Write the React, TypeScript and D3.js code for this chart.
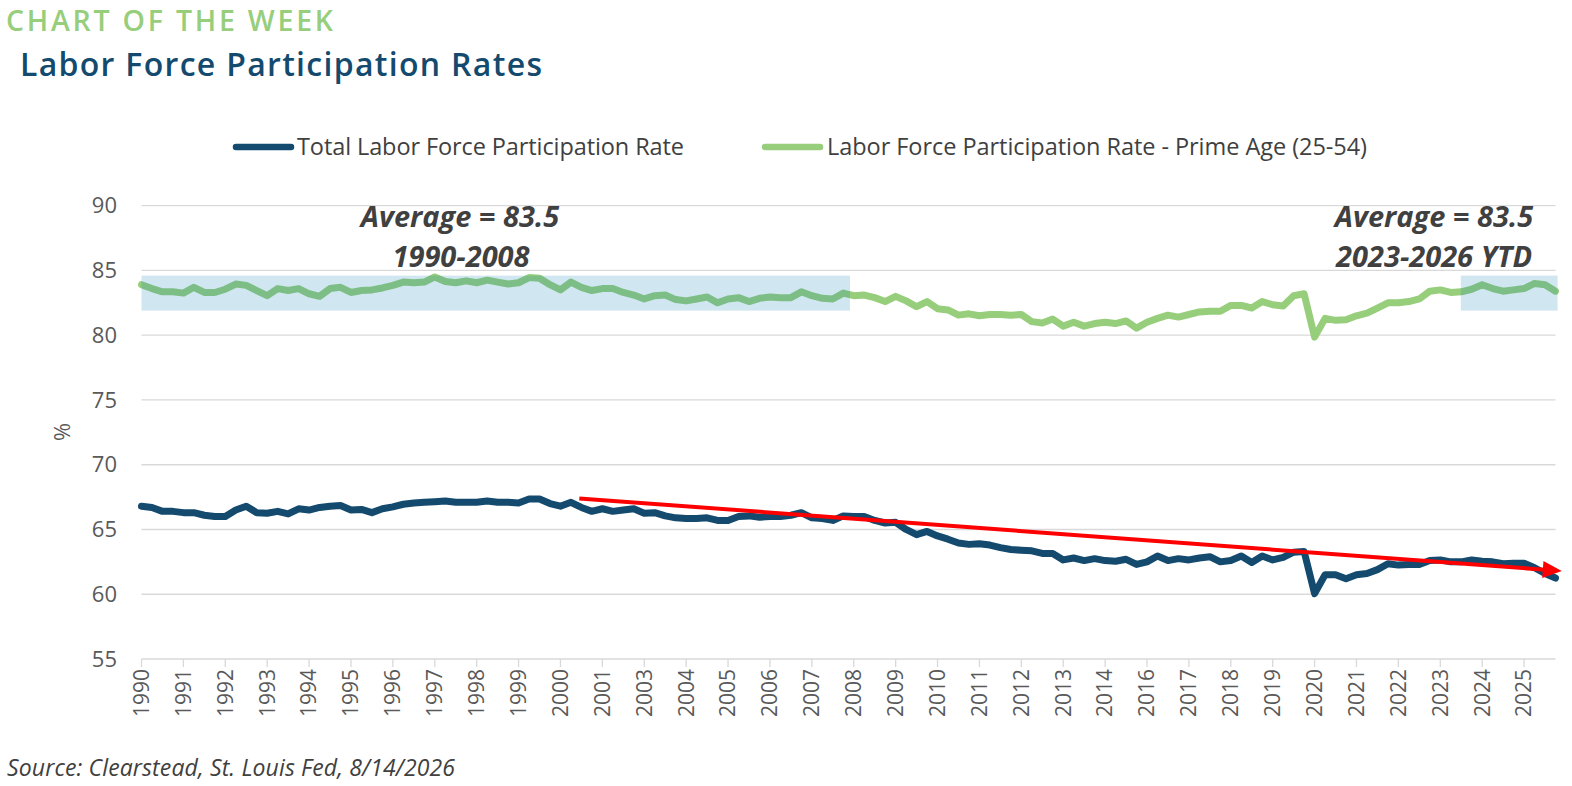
import React from 'react';
import * as d3 from 'd3';

// ---------- data ----------
const tickLabels = [
  '1990', '1991', '1992', '1993', '1994', '1995', '1996', '1997', '1998', '1999', '2000', '2001',
  '2003', '2004', '2005', '2006', '2007', '2008', '2009', '2010', '2011', '2012', '2013', '2014',
  '2016', '2017', '2018', '2019', '2020', '2021', '2022', '2023', '2024', '2025',
];
const yTicks = [55, 60, 65, 70, 75, 80, 85, 90];

// samples every quarter of an axis tick interval
const STEP = 0.25;
const totalRate = [
  66.8, 66.7, 66.4, 66.4, 66.3, 66.3, 66.1, 66.0, 66.0, 66.5,
  66.8, 66.3, 66.25, 66.4, 66.2, 66.6, 66.5, 66.7, 66.8, 66.85,
  66.5, 66.55, 66.3, 66.6, 66.75, 66.95, 67.05, 67.1, 67.15, 67.2,
  67.1, 67.1, 67.1, 67.2, 67.1, 67.1, 67.05, 67.35, 67.35, 67.0,
  66.8, 67.1, 66.7, 66.4, 66.6, 66.4, 66.5, 66.6, 66.25, 66.3,
  66.05, 65.9, 65.85, 65.85, 65.9, 65.7, 65.7, 66.0, 66.05, 65.95,
  66.0, 66.0, 66.1, 66.3, 65.9, 65.85, 65.7, 66.05, 66.0, 66.0,
  65.7, 65.5, 65.55, 65.0, 64.6, 64.85, 64.5, 64.25, 63.95, 63.85,
  63.9, 63.8, 63.6, 63.45, 63.4, 63.35, 63.15, 63.15, 62.65, 62.8,
  62.6, 62.75, 62.6, 62.55, 62.7, 62.3, 62.5, 62.95, 62.6, 62.75,
  62.65, 62.8, 62.9, 62.5, 62.6, 62.95, 62.45, 62.95, 62.65, 62.85,
  63.25, 63.3, 60.05, 61.5, 61.5, 61.2, 61.5, 61.6, 61.9, 62.35,
  62.25, 62.3, 62.3, 62.6, 62.65, 62.5, 62.5, 62.65, 62.55, 62.5,
  62.35, 62.4, 62.4, 62.05, 61.6, 61.25,
];
const primeAgeRate = [
  83.9, 83.6, 83.35, 83.35, 83.25, 83.7, 83.3, 83.3, 83.55, 83.95,
  83.85, 83.45, 83.05, 83.6, 83.45, 83.6, 83.2, 83.0, 83.6, 83.7,
  83.3, 83.45, 83.5, 83.65, 83.85, 84.1, 84.05, 84.1, 84.5, 84.15,
  84.05, 84.2, 84.05, 84.25, 84.1, 83.95, 84.05, 84.45, 84.4, 83.9,
  83.5, 84.1, 83.7, 83.45, 83.6, 83.6, 83.3, 83.1, 82.8, 83.05,
  83.1, 82.75, 82.65, 82.8, 82.95, 82.5, 82.8, 82.9, 82.6, 82.85,
  82.95, 82.9, 82.9, 83.35, 83.05, 82.85, 82.8, 83.25, 83.05, 83.1,
  82.9, 82.6, 83.0, 82.65, 82.2, 82.6, 82.05, 81.95, 81.55, 81.65,
  81.5, 81.6, 81.6, 81.55, 81.6, 81.05, 80.95, 81.25, 80.7, 81.0,
  80.7, 80.9, 81.0, 80.9, 81.1, 80.55, 81.0, 81.3, 81.55, 81.4,
  81.6, 81.8, 81.85, 81.85, 82.3, 82.3, 82.1, 82.6, 82.35, 82.25,
  83.05, 83.2, 79.85, 81.3, 81.15, 81.2, 81.5, 81.7, 82.1, 82.5,
  82.5, 82.6, 82.8, 83.4, 83.5, 83.3, 83.35, 83.55, 83.9, 83.6,
  83.4, 83.5, 83.6, 84.0, 83.9, 83.4,
];

// average bands (axis-tick units, %)
const bandStarts = [0, 31.49];
const bandEnds = [16.91, 33.8];
const bandLow = 81.9;
const bandHigh = 84.6;

// trend arrow (axis-tick units, %)
const trendTicks = [10.45, 33.9];
const trendValues = [67.4, 61.8];

const seriesNames = [
  'Total Labor Force Participation Rate',
  'Labor Force Participation Rate - Prime Age (25-54)',
];
const annotationLeft = ['Average = 83.5', '1990-2008'];
const annotationRight = ['Average = 83.5', '2023-2026 YTD'];

// ---------- styles ----------
const W = 1572;
const H = 786;
const BLUE = '#134A6E';
const GREEN = '#97CE7B';
const GRID = '#D9D9D9';
const AXIS_TEXT = '#595959';
const DARK_TEXT = '#404040';
const FONT = "'Open Sans', 'Noto Sans', sans-serif";

export default function App() {
  const x = d3.scaleLinear().domain([0, 33.75]).range([141.5, 1555.5]);
  const y = d3.scaleLinear().domain([55, 90]).range([659, 205.7]);

  const line = d3
    .line<number>()
    .x((_, i) => x(i * STEP))
    .y((d) => y(d));

  // trend arrow geometry
  const tx0 = x(trendTicks[0]);
  const ty0 = y(trendValues[0]);
  const tx1 = x(trendTicks[1]);
  const ty1 = y(trendValues[1]);
  const ang = Math.atan2(ty1 - ty0, tx1 - tx0);
  const headLen = 19;
  const headHalf = 8.5;
  const bx = tx1 - headLen * Math.cos(ang);
  const by = ty1 - headLen * Math.sin(ang);
  const px = -Math.sin(ang);
  const py = Math.cos(ang);
  const head = [
    [tx1, ty1],
    [bx + px * headHalf, by + py * headHalf],
    [bx - px * headHalf, by - py * headHalf],
  ]
    .map((p) => p.join(','))
    .join(' ');

  return (
    <svg
      width={W}
      height={H}
      viewBox={`0 0 ${W} ${H}`}
      style={{ position: 'absolute', left: 0, top: 0, background: '#fff' }}
      fontFamily={FONT}
    >
      {/* titles */}
      <text x={6} y={31} fontSize={28.5} fontWeight={600} fill={GREEN} textLength={327}>
        CHART OF THE WEEK
      </text>
      <text x={20} y={76} fontSize={32} fontWeight={600} fill={BLUE} textLength={522}>
        Labor Force Participation Rates
      </text>

      {/* legend */}
      <g>
        <line x1={236} x2={291} y1={147} y2={147} stroke={BLUE} strokeWidth={6.5} strokeLinecap="round" />
        <text x={297} y={147} dy="0.35em" fontSize={23.5} fill={DARK_TEXT} textLength={387}>
          {seriesNames[0]}
        </text>
        <line x1={765} x2={820} y1={147} y2={147} stroke={GREEN} strokeWidth={6.5} strokeLinecap="round" />
        <text x={827} y={147} dy="0.35em" fontSize={23.5} fill={DARK_TEXT} textLength={540}>
          {seriesNames[1]}
        </text>
      </g>

      {/* gridlines */}
      {yTicks.map((t) => (
        <g key={t}>
          <line x1={x(0)} x2={x(33.75)} y1={y(t)} y2={y(t)} stroke={GRID} strokeWidth={1.3} />
          <text x={117} y={y(t)} dy="0.35em" textAnchor="end" fontSize={22} fill={AXIS_TEXT}>
            {t}
          </text>
        </g>
      ))}

      {/* x ticks */}
      {tickLabels.map((lab, i) => (
        <g key={lab}>
          <line x1={x(i)} x2={x(i)} y1={y(55)} y2={y(55) + 8} stroke={GRID} strokeWidth={1.3} />
          <text
            transform={`translate(${x(i)},${y(55) + 10}) rotate(-90)`}
            dy="0.35em"
            textAnchor="end"
            fontSize={21}
            fill={AXIS_TEXT}
          >
            {lab}
          </text>
        </g>
      ))}

      {/* y axis title */}
      <text transform="translate(62,432) rotate(-90)" dy="0.35em" textAnchor="middle" fontSize={22} fill={AXIS_TEXT}>
        %
      </text>

      {/* series */}
      <path d={line(primeAgeRate) || ''} fill="none" stroke={GREEN} strokeWidth={7} strokeLinejoin="round" strokeLinecap="round" />
      <path d={line(totalRate) || ''} fill="none" stroke={BLUE} strokeWidth={7} strokeLinejoin="round" strokeLinecap="round" />

      {/* average bands */}
      {bandStarts.map((s, i) => (
        <rect
          key={i}
          x={x(s)}
          y={y(bandHigh)}
          width={x(bandEnds[i]) - x(s)}
          height={y(bandLow) - y(bandHigh)}
          fill="rgb(20,130,180)"
          fillOpacity={0.2}
        />
      ))}

      {/* trend arrow */}
      <line x1={tx0} y1={ty0} x2={bx + 2 * Math.cos(ang)} y2={by + 2 * Math.sin(ang)} stroke="#FF0000" strokeWidth={4} />
      <polygon points={head} fill="#FF0000" />

      {/* annotations */}
      <g fontSize={29} fontWeight={700} fontStyle="italic" fill={DARK_TEXT} textAnchor="middle">
        <text x={460} y={227}>{annotationLeft[0]}</text>
        <text x={461} y={267}>{annotationLeft[1]}</text>
        <text x={1434} y={227}>{annotationRight[0]}</text>
        <text x={1434} y={267}>{annotationRight[1]}</text>
      </g>

      {/* source */}
      <text x={7} y={776} fontSize={23} fontStyle="italic" fill={DARK_TEXT} textLength={448}>
        Source: Clearstead, St. Louis Fed, 8/14/2026
      </text>
    </svg>
  );
}
